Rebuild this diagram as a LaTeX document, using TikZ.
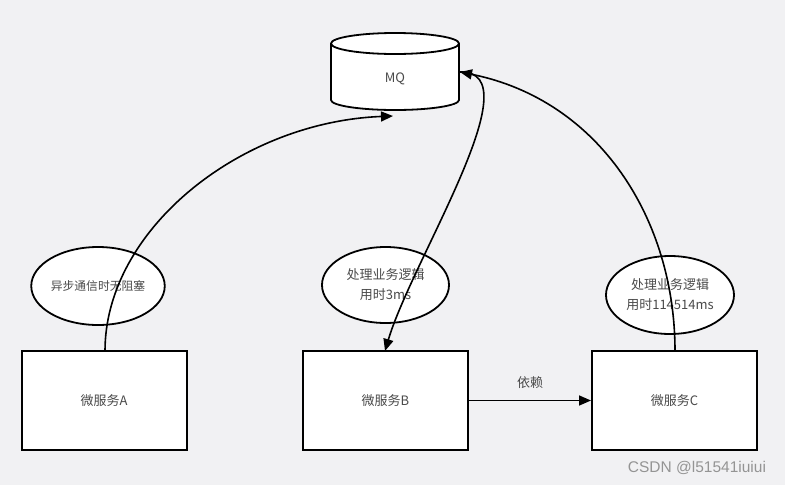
\documentclass[tikz,border=0pt]{standalone}
\usepackage{fontspec}
\setmainfont{Noto Sans CJK SC}
\newfontfamily\wmfont{Liberation Sans}
\usetikzlibrary{shapes.geometric,arrows.meta}
\definecolor{bgc}{HTML}{F1F1F3}
\definecolor{txt}{HTML}{4A4A4A}
\begin{document}
\begin{tikzpicture}[x=1pt,y=-1pt,
  every node/.style={font=\fontsize{13}{20}\selectfont, text=txt},
  svc/.style={draw, line width=2pt, fill=white, minimum width=165pt, minimum height=99pt, inner sep=0pt},
  bubble/.style={draw, line width=1.8pt, fill=white, ellipse, inner sep=0pt, align=center},
  conn/.style={line width=1.6pt},
  tip/.style={-{Triangle[length=12pt,width=10pt]}}
]
\fill[bgc] (0,0) rectangle (785,485);
\useasboundingbox (0,0) rectangle (785,485);
% MQ cylinder
\filldraw[line width=1.8pt, fill=white]
  (331,43.5) -- (331,100) arc[start angle=180, end angle=0, x radius=64, y radius=10] -- (459,43.5)
  arc[start angle=0, end angle=-180, x radius=64, y radius=10.5] -- cycle;
\draw[line width=1.8pt] (331,43.5) arc[start angle=180, end angle=0, x radius=64, y radius=10.5];
\node (mq) at (395,79) {MQ};
\coordinate (mqb) at (393,116);
\coordinate (mqr) at (460,72);
% services
\node[svc] (a) at (104,400.5) {微服务A};
\node[svc] (b) at (385.5,400.5) {微服务B};
\node[svc] (c) at (674.5,400.5) {微服务C};
% ellipses
\node[bubble, minimum width=128pt, minimum height=78pt, font=\fontsize{11.8}{16}\selectfont] (ea) at (98,286) {异步通信时无阻塞};
\node[bubble, minimum width=127pt, minimum height=76pt] (eb) at (385.5,285) {处理业务逻辑\\用时3ms};
\node[bubble, minimum width=128pt, minimum height=78pt] (ec) at (670,295) {处理业务逻辑\\用时114514ms};
% connectors
\coordinate (atop) at (105,351);
\coordinate (btop) at (385,351);
\coordinate (ctop) at (675,351);
\draw[conn,tip] (atop) .. controls (105,230) and (240,122) .. (mqb);
\draw[conn,tip] (mqr) .. controls (535,70) and (412,260) .. (btop);
\draw[conn,tip] (ctop) .. controls (675,220) and (600,100) .. (mqr);
\draw[conn,tip] (b.east) -- (c.west) node[midway, above=8pt] (dep) {依赖};
\node[font=\wmfont\fontsize{15.5}{18}\selectfont, text=black!42] (wm) at (697,468) {CSDN @l51541iuiui};
\end{tikzpicture}
\end{document}
